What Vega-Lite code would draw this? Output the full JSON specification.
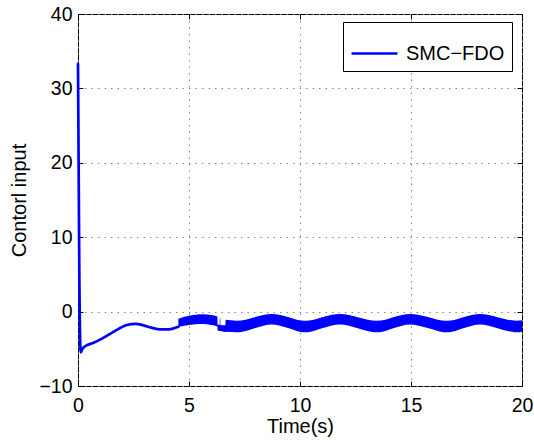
{
  "$schema": "https://vega.github.io/schema/vega-lite/v6.json",
  "width": 444,
  "height": 372,
  "autosize": "none",
  "padding": {"left": 78, "top": 14, "right": 12, "bottom": 54},
  "background": "white",
  "config": {
    "view": {"stroke": "black", "strokeWidth": 1},
    "font": "Liberation Sans",
    "axis": {
      "labelFont": "Liberation Sans",
      "labelFontSize": 19.5,
      "labelColor": "black",
      "labelFlush": false,
      "labelOverlap": false,
      "titleFont": "Liberation Sans",
      "titleFontSize": 20,
      "titleFontWeight": "normal",
      "titleColor": "black",
      "domain": false,
      "tickColor": "black",
      "tickSize": -5,
      "tickWidth": 1,
      "gridColor": "#888888",
      "gridDash": [1.5, 5],
      "gridWidth": 1,
      "gridOpacity": 1
    },
    "legend": {
      "labelFont": "Liberation Sans",
      "labelFontSize": 20,
      "labelColor": "black"
    }
  },
  "datasets": {
    "line": [
      {"t": 0, "u": 33.3},
      {"t": 0.06, "u": 5},
      {"t": 0.12, "u": -5.5},
      {"t": 0.2, "u": -5.0},
      {"t": 0.32, "u": -4.65},
      {"t": 0.7, "u": -4.2},
      {"t": 1.1, "u": -3.6},
      {"t": 1.5, "u": -2.9},
      {"t": 1.9, "u": -2.2},
      {"t": 2.2, "u": -1.8},
      {"t": 2.6, "u": -1.65},
      {"t": 2.95, "u": -1.85},
      {"t": 3.3, "u": -2.15},
      {"t": 3.7, "u": -2.38},
      {"t": 4.1, "u": -2.38},
      {"t": 4.52, "u": -2.05}
    ],
    "band": [
      {"t": 4.52, "lo": -2.05, "hi": -0.95},
      {"t": 4.8, "lo": -1.9, "hi": -0.7},
      {"t": 5.2, "lo": -1.72, "hi": -0.45},
      {"t": 5.6, "lo": -1.67, "hi": -0.37},
      {"t": 6.0, "lo": -1.8, "hi": -0.45},
      {"t": 6.28, "lo": -2.0, "hi": -0.65},
      {"t": 6.29, "lo": -2.55, "hi": -1.75},
      {"t": 6.38, "lo": -2.6, "hi": -1.8},
      {"t": 6.39, "lo": -2.6, "hi": -0.9},
      {"t": 6.41, "lo": -2.6, "hi": -0.9},
      {"t": 6.42, "lo": -2.6, "hi": -1.8},
      {"t": 6.64, "lo": -2.75, "hi": -1.85},
      {"t": 6.65, "lo": -2.72, "hi": -1.1},
      {"t": 7.15, "lo": -2.78, "hi": -1.22},
      {"t": 7.55, "lo": -2.6, "hi": -1.09},
      {"t": 7.95, "lo": -2.25, "hi": -0.77},
      {"t": 8.35, "lo": -1.9, "hi": -0.45},
      {"t": 8.72, "lo": -1.75, "hi": -0.32},
      {"t": 9.1, "lo": -1.9, "hi": -0.45},
      {"t": 9.5, "lo": -2.25, "hi": -0.77},
      {"t": 9.85, "lo": -2.6, "hi": -1.09},
      {"t": 10.22, "lo": -2.78, "hi": -1.22},
      {"t": 10.62, "lo": -2.6, "hi": -1.09},
      {"t": 11.0, "lo": -2.25, "hi": -0.77},
      {"t": 11.4, "lo": -1.9, "hi": -0.45},
      {"t": 11.8, "lo": -1.75, "hi": -0.32},
      {"t": 12.2, "lo": -1.9, "hi": -0.45},
      {"t": 12.6, "lo": -2.25, "hi": -0.77},
      {"t": 13.05, "lo": -2.6, "hi": -1.09},
      {"t": 13.45, "lo": -2.78, "hi": -1.22},
      {"t": 13.85, "lo": -2.6, "hi": -1.09},
      {"t": 14.2, "lo": -2.25, "hi": -0.77},
      {"t": 14.6, "lo": -1.9, "hi": -0.45},
      {"t": 14.95, "lo": -1.75, "hi": -0.32},
      {"t": 15.35, "lo": -1.9, "hi": -0.45},
      {"t": 15.8, "lo": -2.25, "hi": -0.77},
      {"t": 16.2, "lo": -2.6, "hi": -1.09},
      {"t": 16.6, "lo": -2.78, "hi": -1.22},
      {"t": 17.0, "lo": -2.6, "hi": -1.09},
      {"t": 17.35, "lo": -2.25, "hi": -0.77},
      {"t": 17.75, "lo": -1.9, "hi": -0.45},
      {"t": 18.1, "lo": -1.75, "hi": -0.32},
      {"t": 18.5, "lo": -1.9, "hi": -0.45},
      {"t": 18.9, "lo": -2.25, "hi": -0.77},
      {"t": 19.35, "lo": -2.6, "hi": -1.09},
      {"t": 19.75, "lo": -2.78, "hi": -1.22},
      {"t": 20.0, "lo": -2.7, "hi": -1.15}
    ]
  },
  "layer": [
    {
      "data": {"name": "band"},
      "mark": {"type": "area", "interpolate": "monotone", "color": "#0000ff", "opacity": 1},
      "encoding": {
        "x": {"field": "t", "type": "quantitative", "scale": {"domain": [0, 20], "nice": false, "zero": false},
          "axis": {"orient": "top", "values": [0, 5, 10, 15, 20], "labels": false, "grid": false, "title": null}},
        "y": {"field": "lo", "type": "quantitative", "scale": {"domain": [-10, 40], "nice": false, "zero": false},
          "axis": {"orient": "right", "values": [-10, 0, 10, 20, 30, 40], "labels": false, "grid": false, "title": null}},
        "y2": {"field": "hi"}
      }
    },
    {
      "data": {"name": "line"},
      "mark": {"type": "line", "interpolate": "monotone", "strokeWidth": 2.7, "strokeCap": "round", "strokeJoin": "round"},
      "encoding": {
        "x": {"field": "t", "type": "quantitative",
          "axis": {"orient": "bottom", "values": [0, 5, 10, 15, 20], "grid": true, "labelPadding": 15,
            "title": "Time(s)", "titleX": 222, "titleY": 46, "titleBaseline": "alphabetic", "titleAlign": "center"}},
        "y": {"field": "u", "type": "quantitative",
          "axis": {"orient": "left", "values": [-10, 0, 10, 20, 30, 40], "grid": true, "labelPadding": 11,
            "title": "Contorl input", "titleX": -59, "titleY": 186, "titleBaseline": "middle", "titleAlign": "center", "titleAngle": -90}},
        "color": {"datum": "SMC−FDO", "type": "nominal",
          "scale": {"domain": ["SMC−FDO"], "range": ["#0000ff"]},
          "legend": {"title": null, "orient": "none", "legendX": 265, "legendY": 8,
            "symbolType": "stroke", "symbolSize": 2116, "symbolStrokeWidth": 2.7,
            "padding": 7, "labelOffset": 7, "labelLimit": 300,
            "strokeColor": "black", "fillColor": "white", "cornerRadius": 0}}
      }
    }
  ],
  "resolve": {"axis": {"x": "independent", "y": "independent"}}
}
